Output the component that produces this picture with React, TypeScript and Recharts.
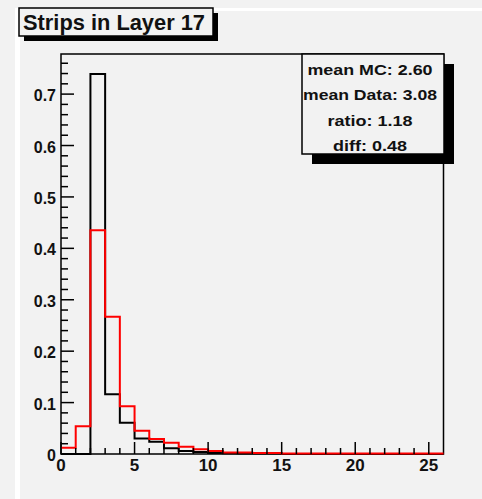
import { ComposedChart, Line, XAxis, YAxis, ReferenceArea } from 'recharts'

// bin lower edges 0..25, bin width 1
const binEdges = [0, 1, 2, 3, 4, 5, 6, 7, 8, 9, 10, 11, 12, 13, 14, 15, 16, 17, 18, 19, 20, 21, 22, 23, 24, 25]
const mcValues = [0, 0, 0.739, 0.116, 0.061, 0.03, 0.024, 0.011, 0.006, 0.004, 0.002, 0.0015, 0.001, 0.001, 0.001, 0, 0, 0, 0, 0, 0, 0, 0, 0, 0, 0]
const dataValues = [0.012, 0.054, 0.435, 0.267, 0.093, 0.045, 0.029, 0.022, 0.014, 0.009, 0.006, 0.003, 0.003, 0.002, 0.002, 0.001, 0.001, 0.001, 0.001, 0.001, 0.001, 0.001, 0.001, 0.001, 0.001, 0.001]

const xMajorTicks = [0, 5, 10, 15, 20, 25]
const yMajorTicks = [0, 0.1, 0.2, 0.3, 0.4, 0.5, 0.6, 0.7]
const yLabels = ['0', '0.1', '0.2', '0.3', '0.4', '0.5', '0.6', '0.7']
const statLines = ['mean MC: 2.60', 'mean Data: 3.08', 'ratio: 1.18', 'diff: 0.48']
const statWidths = [125, 134, 85, 74]

const X_MAX = 26
const Y_MAX = 0.778
const xTicks = binEdges
const yTicks = Array.from({ length: 39 }, (_, i) => Math.round(i * 2) / 100)

const rows = [
  ...binEdges.map((x, i) => ({ x, mc: mcValues[i], data: dataValues[i] })),
  { x: X_MAX, mc: mcValues[mcValues.length - 1], data: dataValues[dataValues.length - 1] },
]

const PLOT_LEFT = 61
const PLOT_BOTTOM = 454
const BG = '#f2f2f2'
const FONT = '"Liberation Sans", Arial, sans-serif'

function YTick({ y, payload }: any) {
  const v = payload.value
  const idx = yMajorTicks.findIndex((m) => Math.abs(m - v) < 1e-6)
  const major = idx >= 0
  return (
    <g>
      <line x1={PLOT_LEFT} x2={PLOT_LEFT + (major ? 13 : 7)} y1={y} y2={y} stroke="#000" strokeWidth={1.5} />
      {major && (
        <text x={PLOT_LEFT - 5} y={y + 7} textAnchor="end" fontFamily={FONT} fontWeight="bold" fontSize={16} fill="#111">
          {yLabels[idx]}
        </text>
      )}
    </g>
  )
}

function XTick({ x, payload }: any) {
  const v = payload.value
  const major = xMajorTicks.includes(v)
  return (
    <g>
      <line x1={x} x2={x} y1={PLOT_BOTTOM} y2={PLOT_BOTTOM - (major ? 12 : 6)} stroke="#000" strokeWidth={1.5} />
      {major && (
        <text x={x} y={PLOT_BOTTOM + 17} textAnchor="middle" fontFamily={FONT} fontWeight="bold" fontSize={17} fill="#111">
          {String(v)}
        </text>
      )}
    </g>
  )
}

export default function App() {
  return (
    <div style={{ position: 'absolute', left: 0, top: 0, width: 482, height: 499, background: BG, overflow: 'hidden' }}>
      <div style={{ position: 'absolute', left: 15, top: 8, width: 5, height: 491, background: '#fff' }} />
      <div style={{ position: 'absolute', left: 15, top: 8, width: 467, height: 3, background: '#fff' }} />
      <div style={{ position: 'absolute', left: 0, top: 0 }}>
        <ComposedChart width={482} height={499} data={rows} margin={{ top: 54, right: 38.5, bottom: 15, left: 21 }}>
          <XAxis
            dataKey="x"
            type="number"
            domain={[0, X_MAX]}
            ticks={xTicks}
            tick={<XTick />}
            tickLine={false}
            axisLine={false}
            height={30}
            interval={0}
          />
          <YAxis
            type="number"
            domain={[0, Y_MAX]}
            ticks={yTicks}
            tick={<YTick />}
            tickLine={false}
            axisLine={false}
            width={40}
            interval={0}
          />
          <ReferenceArea x1={0} x2={X_MAX} y1={0} y2={Y_MAX} fill="none" stroke="#000" strokeWidth={1.5} />
          <Line type="stepAfter" dataKey="mc" stroke="#000" strokeWidth={2} dot={false} isAnimationActive={false} />
          <Line type="stepAfter" dataKey="data" stroke="#ff0000" strokeWidth={2} dot={false} isAnimationActive={false} />
        </ComposedChart>
      </div>
      <svg width={482} height={499} style={{ position: 'absolute', left: 0, top: 0, pointerEvents: 'none' }}>
        <rect x={24} y={13} width={194} height={28} fill="#000" />
        <rect x={19} y={8} width={194} height={28} fill={BG} stroke="#000" strokeWidth={1.5} />
        <text x={23} y={30} fontFamily={FONT} fontWeight="bold" fontSize={22} textLength={182} lengthAdjust="spacingAndGlyphs" fill="#111">
          Strips in Layer 17
        </text>
        <rect x={312} y={64} width={142} height={100} fill="#000" />
        <rect x={302} y={54} width={142} height={100} fill={BG} stroke="#000" strokeWidth={1.5} />
        {statLines.map((s, i) => (
          <text key={s} x={370} y={75 + i * 25.3} textAnchor="middle" fontFamily={FONT} fontWeight="bold" fontSize={15} textLength={statWidths[i]} lengthAdjust="spacingAndGlyphs" fill="#111">
            {s}
          </text>
        ))}
      </svg>
    </div>
  )
}
